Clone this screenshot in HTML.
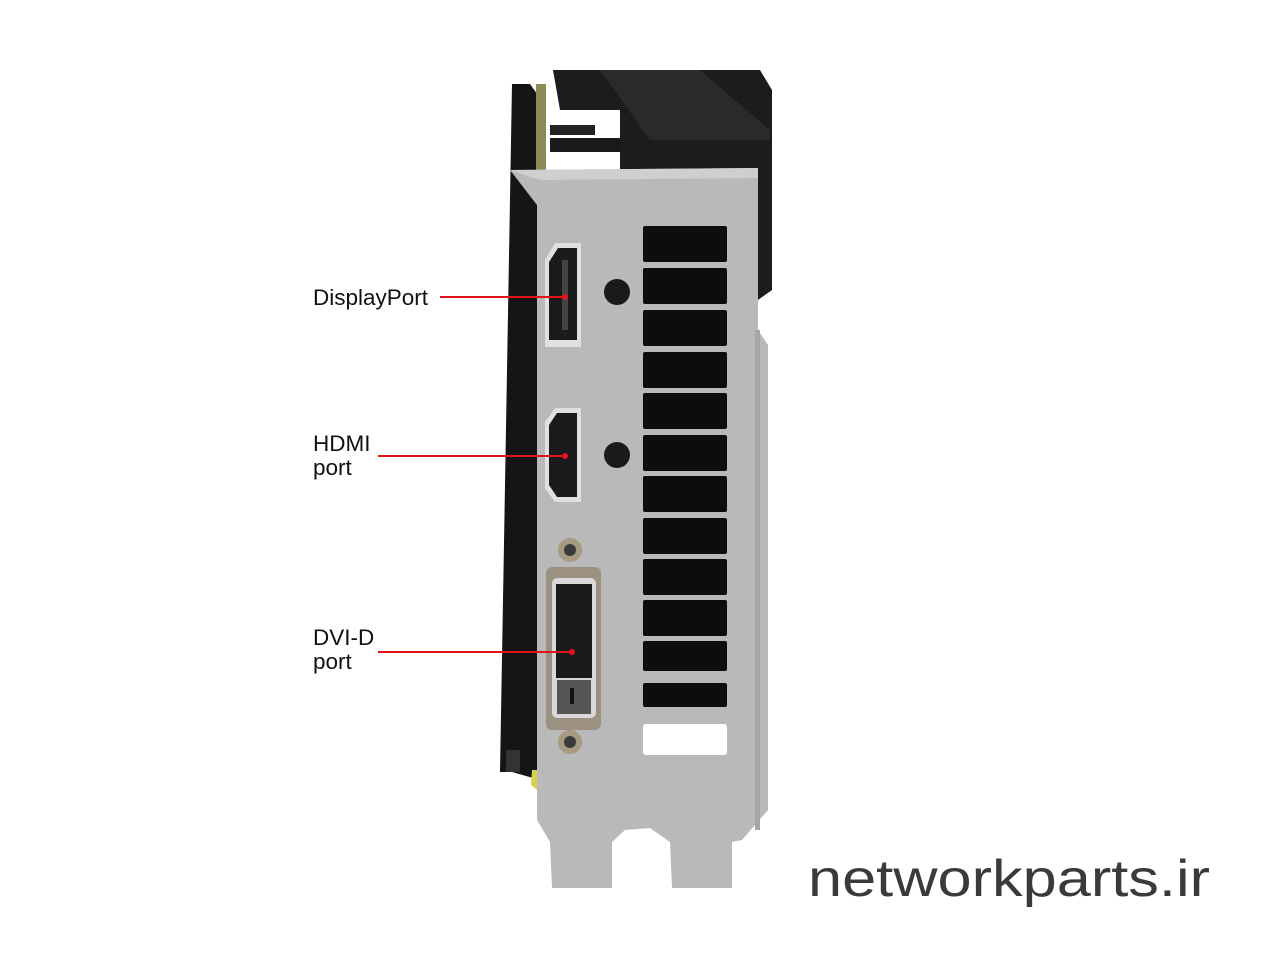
<!DOCTYPE html>
<html><head><meta charset="utf-8"><style>
html,body{margin:0;padding:0;background:#fff;width:1280px;height:960px;overflow:hidden}
svg{display:block}
text{font-family:"Liberation Sans",sans-serif}
</style></head><body>
<svg width="1280" height="960" viewBox="0 0 1280 960" xmlns="http://www.w3.org/2000/svg">
<!-- cooler -->
<polygon points="553,70 760,70 772,90 772,290 758,300 740,170 620,170 560,110" fill="#1c1c1c"/>
<rect x="560" y="110" width="60" height="60" fill="#fff"/>
<rect x="550" y="125" width="45" height="10" fill="#222"/>
<rect x="550" y="138" width="70" height="14" fill="#1a1a1a"/>
<polygon points="600,70 700,70 770,130 770,140 650,140" fill="#2a2a2a"/>
<!-- PCB -->
<polygon points="512,84 530,84 540,98 540,780 512,772 500,772" fill="#151515"/>
<rect x="536" y="84" width="10" height="90" fill="#8d8a55"/>
<rect x="506" y="750" width="14" height="22" fill="#333"/>
<polygon points="532,770 538,770 537,790 531,785" fill="#d6d24a"/>
<!-- bracket -->
<path d="M510,170 L758,168 L758,330 L768,345 L768,810 L742,840 L732,842 L732,888 L672,888 L670,842 L650,828 L625,830 L612,842 L612,888 L552,888 L550,842 L537,820 L537,205 Z" fill="#b9b9b9"/>
<path d="M510,170 L758,168 L758,178 L540,180 Z" fill="#cfcfcf"/>
<rect x="755" y="330" width="5" height="500" fill="#a6a6a6"/>
<!-- slots -->
<g fill="#0d0d0d">
<rect x="643" y="226" width="84" height="36" rx="2"/>
<rect x="643" y="268" width="84" height="36" rx="2"/>
<rect x="643" y="310" width="84" height="36" rx="2"/>
<rect x="643" y="352" width="84" height="36" rx="2"/>
<rect x="643" y="393" width="84" height="36" rx="2"/>
<rect x="643" y="435" width="84" height="36" rx="2"/>
<rect x="643" y="476" width="84" height="36" rx="2"/>
<rect x="643" y="518" width="84" height="36" rx="2"/>
<rect x="643" y="559" width="84" height="36" rx="2"/>
<rect x="643" y="600" width="84" height="36" rx="2"/>
<rect x="643" y="641" width="84" height="30" rx="2"/>
<rect x="643" y="683" width="84" height="24" rx="2"/>
</g>
<rect x="643" y="724" width="84" height="31" rx="3" fill="#fff"/>
<!-- DP -->
<path d="M555,243 L581,243 L581,347 L545,347 L545,260 Z" fill="#e0e0e0"/>
<path d="M558,248 L577,248 L577,340 L549,340 L549,262 Z" fill="#1b1b1b"/>
<rect x="562" y="260" width="6" height="70" fill="#444"/>
<circle cx="617" cy="292" r="13" fill="#1a1a1a"/>
<!-- HDMI -->
<path d="M555,408 L581,408 L581,502 L555,502 L545,488 L545,422 Z" fill="#e0e0e0"/>
<path d="M557,413 L577,413 L577,497 L557,497 L549,485 L549,425 Z" fill="#1b1b1b"/>
<circle cx="617" cy="455" r="13" fill="#1a1a1a"/>
<!-- DVI -->
<circle cx="570" cy="550" r="12" fill="#a89a80"/><circle cx="570" cy="550" r="6" fill="#3a3a3a"/>
<circle cx="570" cy="742" r="12" fill="#a89a80"/><circle cx="570" cy="742" r="6" fill="#3a3a3a"/>
<rect x="546" y="567" width="55" height="163" rx="6" fill="#9c9180"/>
<rect x="552" y="578" width="44" height="140" rx="5" fill="#d8d8d8"/>
<rect x="556" y="584" width="36" height="94" fill="#1a1a1a"/>
<rect x="557" y="680" width="34" height="34" fill="#555"/>
<rect x="570" y="688" width="4" height="16" fill="#111"/>
<!-- labels -->
<g fill="#111" font-size="22.5">
<text x="313" y="305">DisplayPort</text>
<text x="313" y="451">HDMI</text>
<text x="313" y="475">port</text>
<text x="313" y="645">DVI-D</text>
<text x="313" y="669">port</text>
</g>
<g stroke="#e0141b" stroke-width="2">
<line x1="440" y1="297" x2="565" y2="297"/>
<line x1="378" y1="456" x2="565" y2="456"/>
<line x1="378" y1="652" x2="572" y2="652"/>
</g>
<g fill="#e0141b"><circle cx="565" cy="297" r="3"/><circle cx="565" cy="456" r="3"/><circle cx="572" cy="652" r="3"/></g>
<text x="808" y="896" font-size="52" fill="#3a3a3a" textLength="402" lengthAdjust="spacingAndGlyphs">networkparts.ir</text>
</svg>
</body></html>
